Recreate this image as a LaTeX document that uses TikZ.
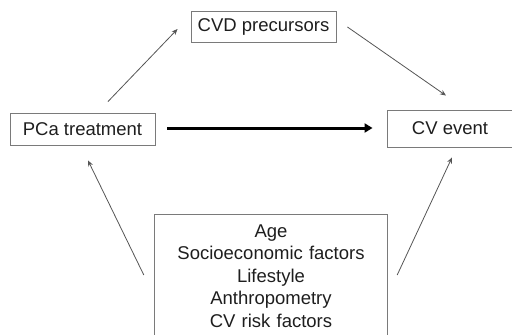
\documentclass[tikz,border=0pt]{standalone}
\usepackage{fontspec}
\setmainfont{Liberation Sans}
\usetikzlibrary{arrows.meta}
\definecolor{boxgray}{HTML}{7A7A7A}
\definecolor{linegray}{HTML}{555555}
\definecolor{txt}{HTML}{1E1E1E}
\begin{document}
\begin{tikzpicture}[x=1pt,y=1pt,
  every node/.style={font=\fontsize{18.5}{22.5}\selectfont, text=txt},
  box/.style={draw=boxgray, line width=0.9pt, inner sep=0pt},
  boxline/.style={draw=boxgray, line width=0.9pt},
  arr/.style={draw=linegray, line width=0.8pt, -{Stealth[length=6pt,width=5pt]}},
  thickarr/.style={draw=black, line width=3pt, -{Triangle[length=8pt,width=9pt]}}]
\useasboundingbox (0,0) rectangle (512,-335);
\node[box, minimum width=145pt, minimum height=31pt] (cvd) at (263.5,-26.5) {CVD precursors};
\node[box, minimum width=145pt, minimum height=32pt] (pca) at (82.5,-129) {PCa treatment};
\node[box, minimum width=126pt, minimum height=37pt] (cv) at (450,-128.5) {CV event};
\node[anchor=north, text width=232pt, align=center, inner xsep=0pt, inner ysep=10.5pt] (conf) at (271,-214)
  {Age\\Socioeconomic factors\\Lifestyle\\Anthropometry\\CV risk factors};
\draw[boxline] ([yshift=-20pt]conf.south west) -- (conf.north west) -- (conf.north east) -- ([yshift=-20pt]conf.south east);
\draw[arr] ([xshift=25.5pt,yshift=11pt]pca.north) -- ([xshift=-13pt,yshift=-2.5pt]cvd.west);
\draw[arr] ([xshift=11pt,yshift=-0.5pt]cvd.east) -- ([xshift=-4pt,yshift=14pt]cv.north);
\draw[thickarr] ([xshift=12pt,yshift=1pt]pca.east) -- ([xshift=-14pt,yshift=0.5pt]cv.west);
\draw[arr] ([xshift=-11pt,yshift=-61pt]conf.north west) -- ([xshift=5.5pt,yshift=-15pt]pca.south);
\draw[arr] ([xshift=10pt,yshift=-61pt]conf.north east) -- ([xshift=2pt,yshift=-10pt]cv.south);
\end{tikzpicture}
\end{document}
